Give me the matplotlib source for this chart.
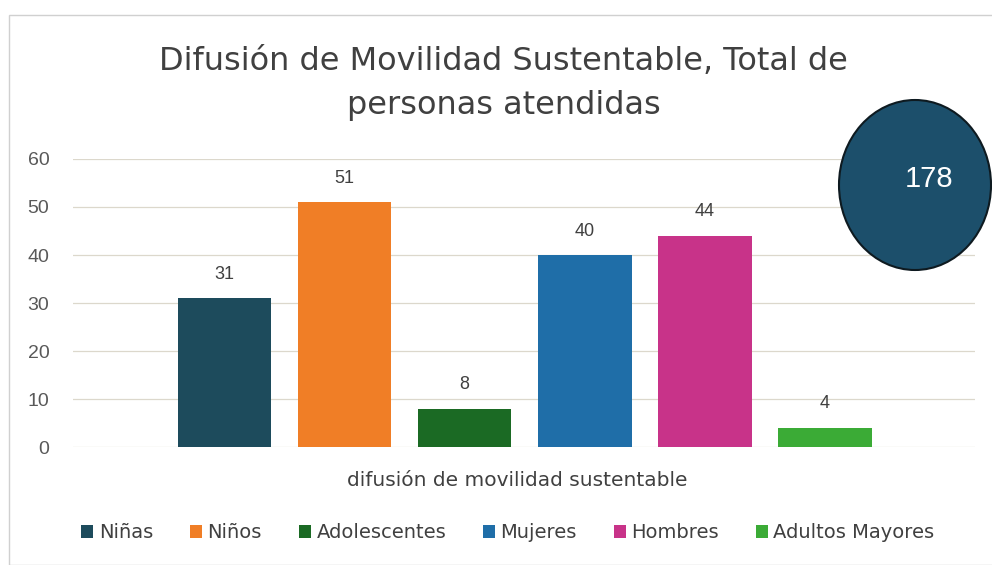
import matplotlib
matplotlib.use("Agg")
import matplotlib.pyplot as plt
from matplotlib.patches import Ellipse, Rectangle

categorias = ["Niñas", "Niños", "Adolescentes", "Mujeres", "Hombres", "Adultos Mayores"]
valores = [31, 51, 8, 40, 44, 4]
colores = ["#1d4b5c", "#f07e26", "#1b6a24", "#1f6ea8", "#c83389", "#3bab36"]
total = 178

plt.rcParams['font.family'] = ['DejaVu Sans']

fig = plt.figure(figsize=(9.92, 5.65), dpi=100)
ax = fig.add_axes([0.0736, 0.2088, 0.983 - 0.0736, 0.7186 - 0.2088])

x = list(range(len(valores)))
barras = ax.bar(x, valores, width=0.78, color=colores, zorder=3)
for xi, v in zip(x, valores):
    ax.text(xi, v + 5.0, str(v), ha="center", va="center", fontsize=13,
            family="Liberation Sans", color="#404040")

ax.set_xlim(-1.26, 6.25)
ax.set_ylim(0, 60)
ax.set_yticks(range(0, 61, 10))
ax.tick_params(axis="y", length=0, labelsize=14, labelcolor="#595959", pad=17)
for lbl in ax.get_yticklabels():
    lbl.set_family("Liberation Sans")
ax.set_xticks([])
ax.grid(axis="y", color="#dcd8cc", linewidth=0.9, zorder=0)
for s in ax.spines.values():
    s.set_visible(False)

fig.text(517 / 992, 1 - 480 / 565, "difusión de movilidad sustentable", ha="center", va="center",
         fontsize=14.5, color="#404040")

fig.text(0.508, 1 - 62 / 565, "Difusión de Movilidad Sustentable, Total de", ha="center",
         va="center", fontsize=23, color="#404040")
fig.text(0.508, 1 - 105 / 565, "personas atendidas", ha="center", va="center",
         fontsize=23, color="#404040")

leg = fig.legend(barras, categorias, loc="center", bbox_to_anchor=(508 / 992, 1 - 533 / 565),
                 ncol=6, frameon=False, fontsize=14, handlelength=0.6, handleheight=0.6,
                 handletextpad=0.3, columnspacing=1.9, labelcolor="#404040")

# circulo con el total
fig.patches.append(Ellipse((915 / 992, 1 - 185 / 565), 152 / 992, 170 / 565,
                           transform=fig.transFigure, facecolor="#1c4f6b",
                           edgecolor="#0e1a20", linewidth=1.5, zorder=5))
fig.text(929 / 992, 1 - 179 / 565, str(total), ha="center", va="center", fontsize=21,
         family="Liberation Sans", color="white", zorder=6)

# marco del grafico
fig.patches.append(Rectangle((9 / 992, 0), 1, 1 - 15 / 565, transform=fig.transFigure,
                             facecolor="none", edgecolor="#d0d0d0", linewidth=1))

fig.savefig("out.png", dpi=100)
